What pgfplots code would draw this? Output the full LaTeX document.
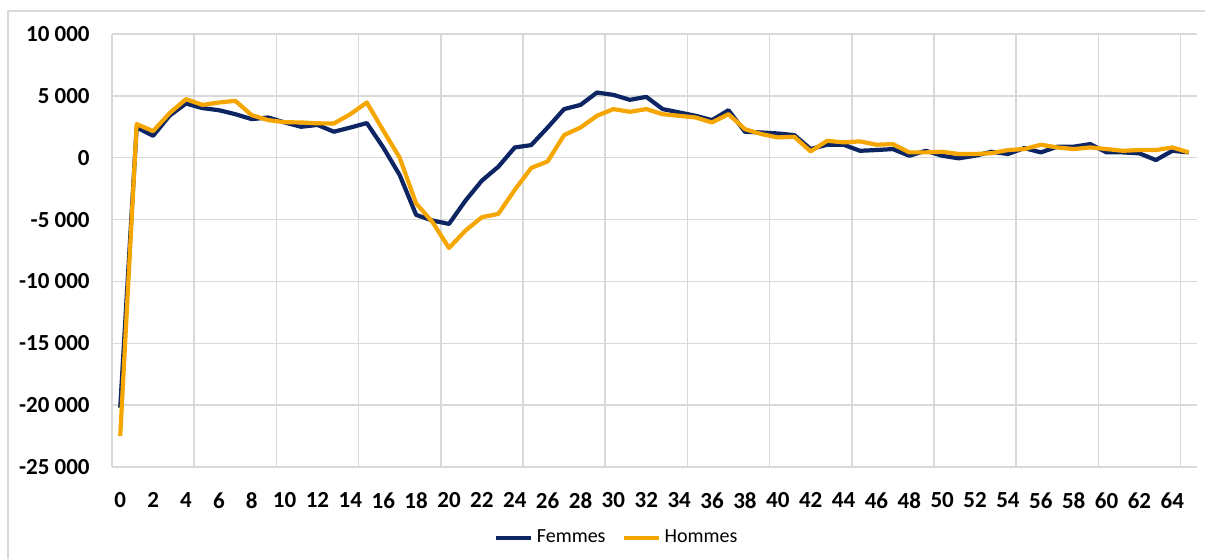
\documentclass[border=0pt]{standalone}
\usepackage{fontspec}
\setmainfont{Carlito}
\usepackage{pgfplots}
\usepackage{pgfplotstable}
\pgfplotsset{compat=1.18}

\definecolor{femmes}{RGB}{13,38,99}
\definecolor{hommes}{RGB}{245,166,0}
\definecolor{grille}{RGB}{217,217,217}

% solde par âge
\pgfplotstableread{
age femmes hommes
0  -20200 -22500
1    2450   2720
2    1770   2150
3    3400   3600
4    4380   4730
5    4010   4270
6    3840   4460
7    3520   4600
8    3120   3440
9    3250   3040
10   2850   2870
11   2500   2850
12   2650   2780
13   2100   2770
14   2440   3520
15   2800   4460
16    830   2200
17  -1400      0
18  -4620  -3700
19  -5080  -5210
20  -5350  -7300
21  -3470  -5890
22  -1850  -4810
23   -730  -4540
24    830  -2600
25   1020   -830
26   2440   -300
27   3930   1830
28   4270   2440
29   5270   3390
30   5080   3930
31   4680   3710
32   4920   3930
33   3930   3520
34   3660   3390
35   3390   3250
36   3040   2850
37   3840   3520
38   2100   2310
39   2040   1910
40   1960   1640
41   1830   1690
42    700    510
43   1050   1370
44   1050   1240
45    560   1320
46    620   1050
47    700   1100
48    160    430
49    560    430
50    160    480
51    -50    300
52    160    300
53    480    370
54    300    620
55    780    700
56    430   1050
57    890    830
58    890    700
59   1100    830
60    430    700
61    430    560
62    350    620
63   -190    620
64    560    830
65    430    430
}\donnees

\begin{document}
\begin{tikzpicture}
\begin{axis}[
    at={(56pt,45.5pt)}, anchor=south west,
    scale only axis, width=542.5pt, height=216.5pt,
    xmin=-0.5, xmax=65.5, ymin=-25000, ymax=10000,
    axis line style={draw=none},
    major tick length=0pt,
    xtick={0,2,...,64},
    extra x ticks={-0.5,4.5,...,64.5},
    extra x tick labels={},
    extra x tick style={xmajorgrids=true},
    ytick={-25000,-20000,...,10000},
    yticklabels={-25 000,-20 000,-15 000,-10 000,-5 000,0,5 000,10 000},
    scaled y ticks=false,
    ymajorgrids,
    grid style={grille, line width=0.75pt},
    /pgf/number format/assume math mode=true,
    ticklabel style={font=\fontsize{11.5}{13}\selectfont\bfseries, inner sep=0pt},
    xticklabel style={anchor=north, yshift=-12.5pt},
    yticklabel style={anchor=east, xshift=-11pt},
    legend style={at={(0.466,-0.164)}, anchor=center, draw=none,
                  legend columns=2, font=\fontsize{10}{12}\selectfont,
                  /tikz/every even column/.append style={column sep=6pt},
                  nodes={inner sep=2pt}},
    legend image code/.code={\draw[#1] (0pt,0pt) -- (17.5pt,0pt);},
    every axis plot/.append style={line width=2.1pt, line join=round, mark=none},
  ]
  \addplot[femmes] table[x=age, y=femmes] {\donnees};
  \addplot[hommes] table[x=age, y=hommes] {\donnees};
  \legend{Femmes, Hommes}
\end{axis}
\pgfresetboundingbox
\useasboundingbox (0,0) rectangle (602.5pt,279pt);
\draw[grille, line width=0.6pt] (4pt,-10pt) rectangle (615pt,273.5pt);
\end{tikzpicture}
\end{document}
